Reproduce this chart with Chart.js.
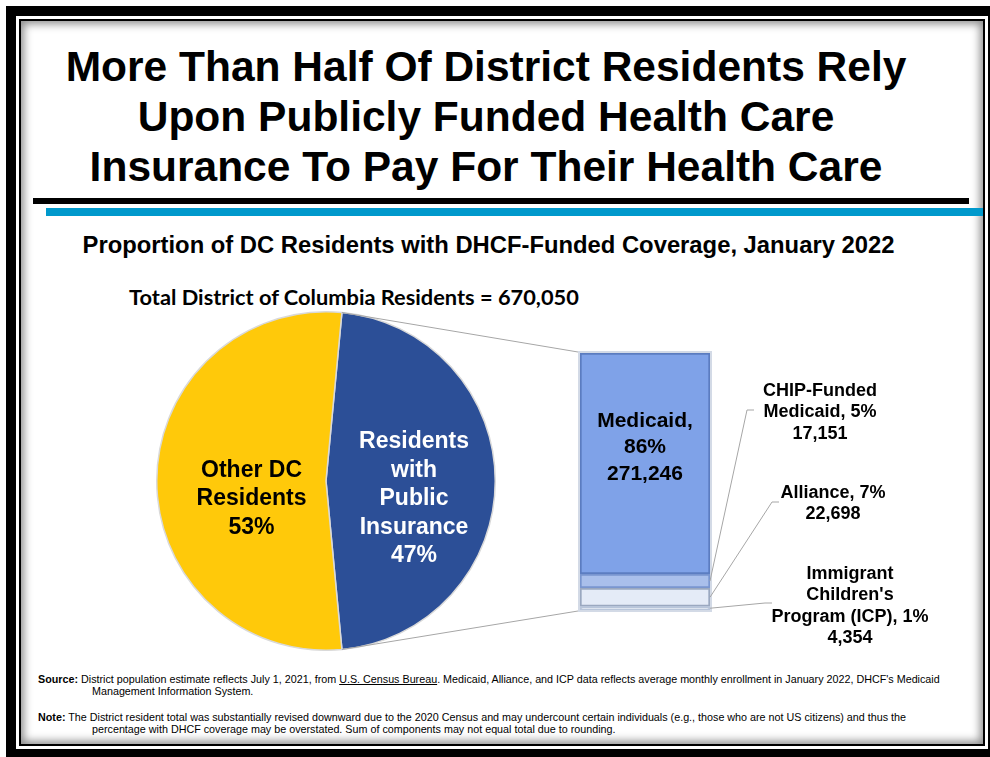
<!DOCTYPE html>
<html>
<head>
<meta charset="utf-8">
<script src="https://cdn.jsdelivr.net/npm/chart.js@4.4.1/dist/chart.umd.min.js"></script>
<style>
  body { margin: 0; width: 990px; height: 757px; overflow: hidden; background: #fff; position: relative;
         font-family: "Liberation Sans", Arial, sans-serif; }
  .abs { position: absolute; }
  #frameOuter { left: 6px; top: 6px; width: 1000px; height: 751px; background: #000; }
  #frameWhite { left: 16px; top: 16px; width: 972px; height: 733px; background: #fff; }
  #frameLine { left: 19px; top: 19px; width: 966px; height: 727px; border: 2px solid #000; box-sizing: border-box; }
  #frameInner { left: 21px; top: 21px; width: 962px; height: 723px; background: #fff;
                box-shadow: inset 0 0 9px 3px rgba(0,0,0,0.45); }
  #title { left: 0; top: 42px; width: 972px; text-align: center; font-weight: bold; font-size: 42.5px; line-height: 50px; }
  #ruleBlack { left: 33px; top: 198px; width: 936px; height: 6px; background: #000; }
  #ruleBlue { left: 46px; top: 208px; width: 937px; height: 8px; background: #0099cc; }
  #subtitle { left: 0; top: 230px; width: 977px; text-align: center; font-weight: bold; font-size: 23.8px; line-height: 30px; }
  #total { left: 0; top: 282px; width: 708px; text-align: center; font-weight: bold; font-size: 21.8px; line-height: 30px;
           font-family: Lato, "Open Sans", sans-serif; }
  .foot { left: 38px; font-size: 10.75px; line-height: 12px; white-space: nowrap;
          font-family: "Liberation Sans Narrow", "Arial Narrow", "Liberation Sans", sans-serif; }
  .foot .ind { padding-left: 54px; }
  #pieBox { left: 156px; top: 311px; width: 340px; height: 340px; }
  #barBox { left: 300px; top: 300px; width: 690px; height: 360px; pointer-events: none; }
</style>
</head>
<body>
<div class="abs" id="frameOuter"></div>
<div class="abs" id="frameWhite"></div>
<div class="abs" id="frameLine"></div>
<div class="abs" id="frameInner"></div>

<div class="abs" id="title">More Than Half Of District Residents Rely<br>Upon Publicly Funded Health Care<br>Insurance To Pay For Their Health Care</div>
<div class="abs" id="ruleBlack"></div>
<div class="abs" id="ruleBlue"></div>
<div class="abs" id="subtitle">Proportion of DC Residents with DHCF-Funded Coverage, January 2022</div>
<div class="abs" id="total">Total District of Columbia Residents = 670,050</div>

<div class="abs" id="pieBox"><canvas id="pie"></canvas></div>
<div class="abs" id="barBox"><canvas id="bar"></canvas></div>

<div class="abs foot" style="top:673px"><b>Source:</b> District population estimate reflects July 1, 2021, from <u>U.S. Census Bureau</u>. Medicaid, Alliance, and ICP data reflects average monthly enrollment in January 2022, DHCF's Medicaid<br><span class="ind">Management Information System.</span></div>
<div class="abs foot" style="top:711px"><b>Note:</b> The District resident total was substantially revised downward due to the 2020 Census and may undercount certain individuals (e.g., those who are not US citizens) and thus the<br><span class="ind">percentage with DHCF coverage may be overstated. Sum of components may not equal total due to rounding.</span></div>

<script>
// Pie data (first slice is exploded into the bar)
const pieLabels = ['Residents with Public Insurance', 'Other DC Residents'];
const pieShares = [47, 53];
const pieColors = ['#2c4f97', '#ffc90a'];

// Bar data, bottom to top
const barNames = ['Immigrant Children\'s Program (ICP)', 'Alliance', 'CHIP-Funded Medicaid', 'Medicaid'];
const barCounts = [4354, 22698, 17151, 271246];
const barShares = [1, 7, 5, 86];
const barColors = ['#dfe7f3', '#e4ebf7', '#a9bfeb', '#7fa2e8'];
const barBorders = ['#b8c5da', '#9aa8c0', '#7895cf', '#5b7cc0'];

const fontStack = '"Liberation Sans", Arial, sans-serif';

function fmt(n) {
  return n.toLocaleString('en-US');
}

// labels inside the pie slices
const pieLabelPlugin = {
  id: 'pieLabels',
  afterDatasetsDraw(chart) {
    const ctx = chart.ctx;
    const arcs = chart.getDatasetMeta(0).data;
    const lines = [
      ['Residents', 'with', 'Public', 'Insurance', pieShares[0] + '%'],
      ['Other DC', 'Residents', pieShares[1] + '%']
    ];
    const colors = ['#fff', '#000'];
    const dist = [0.52, 0.44];
    ctx.save();
    ctx.font = 'bold 23px ' + fontStack;
    ctx.textAlign = 'center';
    ctx.textBaseline = 'middle';
    arcs.forEach((arc, i) => {
      const mid = (arc.startAngle + arc.endAngle) / 2;
      const cx = arc.x + Math.cos(mid) * arc.outerRadius * dist[i];
      const cy = arc.y + Math.sin(mid) * arc.outerRadius * dist[i] + 18;
      const lh = 28.5;
      const y0 = cy - (lines[i].length - 1) * lh / 2;
      ctx.fillStyle = colors[i];
      lines[i].forEach((t, k) => ctx.fillText(t, cx, y0 + k * lh));
    });
    ctx.restore();
  }
};

const pieChart = new Chart(document.getElementById('pie'), {
  type: 'pie',
  data: {
    labels: pieLabels,
    datasets: [{
      data: pieShares,
      backgroundColor: pieColors,
      borderColor: '#d9d9d9',
      borderWidth: 1.5
    }]
  },
  options: {
    responsive: true,
    maintainAspectRatio: false,
    animation: false,
    rotation: 90 - pieShares[0] / 100 * 360 / 2,
    plugins: { legend: { display: false }, tooltip: { enabled: false } }
  },
  plugins: [pieLabelPlugin]
});

// connectors, leader lines and labels for the bar
const barDecorPlugin = {
  id: 'barDecor',
  afterDatasetsDraw(chart) {
    const ctx = chart.ctx;
    const metas = chart.data.datasets.map((d, i) => chart.getDatasetMeta(i).data[0]);
    const top = metas[3];
    const bottom = metas[0];
    const left = top.x - top.width / 2;
    const right = top.x + top.width / 2;

    ctx.save();
    // light outline round the stack
    ctx.strokeStyle = '#d3dae6';
    ctx.lineWidth = 2;
    ctx.strokeRect(left - 1, top.y - 1, right - left + 2, bottom.base - top.y + 2);

    // connector lines from the pie slice
    const pr = pieChart.canvas.getBoundingClientRect();
    const br = chart.canvas.getBoundingClientRect();
    const arc = pieChart.getDatasetMeta(0).data[0];
    const ox = pr.left - br.left, oy = pr.top - br.top;
    const p1 = [arc.x + Math.cos(arc.startAngle) * arc.outerRadius + ox, arc.y + Math.sin(arc.startAngle) * arc.outerRadius + oy];
    const p2 = [arc.x + Math.cos(arc.endAngle) * arc.outerRadius + ox, arc.y + Math.sin(arc.endAngle) * arc.outerRadius + oy];
    ctx.strokeStyle = '#a6a6a6';
    ctx.lineWidth = 1;
    ctx.beginPath();
    ctx.moveTo(p1[0], p1[1]); ctx.lineTo(left - 2, top.y - 1);
    ctx.moveTo(p2[0], p2[1]); ctx.lineTo(left - 2, bottom.base + 1);
    ctx.stroke();

    // Medicaid label inside its bar
    ctx.fillStyle = '#000';
    ctx.textAlign = 'center';
    ctx.textBaseline = 'middle';
    ctx.font = 'bold 21px ' + fontStack;
    const mLines = [barNames[3] + ',', barShares[3] + '%', fmt(barCounts[3])];
    mLines.forEach((t, k) => ctx.fillText(t, top.x, top.y + 68 + k * 26.5));

    // outside labels: [dataset index, text lines, label dx, label y offset from bar top, elbow dx, elbow dy]
    const outside = [
      [2, ['CHIP-Funded', 'Medicaid, ' + barShares[2] + '%', fmt(barCounts[2])], 110, 38, 37, 57],
      [1, [barNames[1] + ', ' + barShares[1] + '%', fmt(barCounts[1])], 123, 140, 62, 149],
      [0, ['Immigrant', 'Children\'s', 'Program (ICP), ' + barShares[0] + '%', fmt(barCounts[0])], 140, 221, 55, 250]
    ];
    ctx.font = 'bold 18px ' + fontStack;
    outside.forEach(o => {
      const el = metas[o[0]];
      const sy = (el.y + el.base) / 2;
      ctx.strokeStyle = '#a6a6a6';
      ctx.beginPath();
      ctx.moveTo(right, sy);
      ctx.lineTo(right + o[4], top.y + o[5]);
      ctx.lineTo(right + o[4] + 7, top.y + o[5]);
      ctx.stroke();
      o[1].forEach((t, k) => ctx.fillText(t, right + o[2], top.y + o[3] + k * 21.3));
    });
    ctx.restore();
  }
};

new Chart(document.getElementById('bar'), {
  type: 'bar',
  data: {
    labels: ['Public Insurance'],
    datasets: barNames.map((name, i) => ({
      label: name,
      data: [barCounts[i]],
      backgroundColor: barColors[i],
      borderColor: barBorders[i],
      borderWidth: 2,
      borderSkipped: false,
      barPercentage: 1,
      categoryPercentage: 1
    }))
  },
  options: {
    responsive: true,
    maintainAspectRatio: false,
    animation: false,
    layout: { padding: { left: 280, right: 280, top: 53, bottom: 50 } },
    scales: {
      x: { stacked: true, display: false },
      y: { stacked: true, display: false, min: 0, max: barCounts.reduce((a, b) => a + b, 0) }
    },
    plugins: { legend: { display: false }, tooltip: { enabled: false } }
  },
  plugins: [barDecorPlugin]
});
</script>
</body>
</html>
